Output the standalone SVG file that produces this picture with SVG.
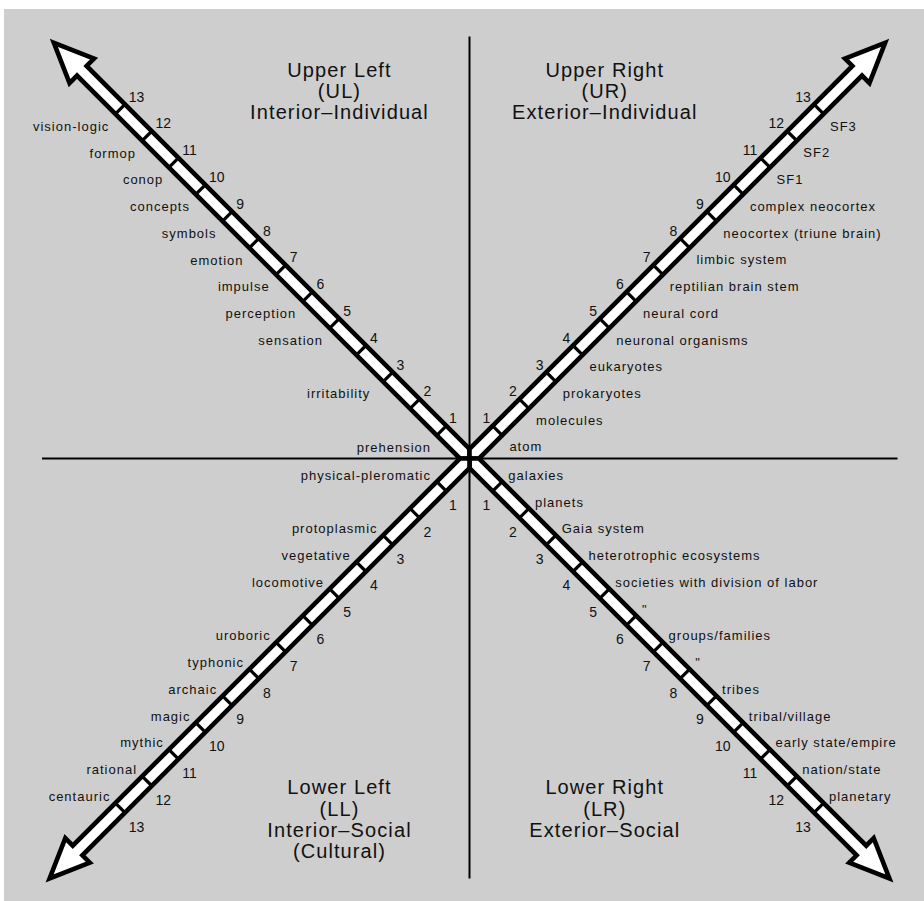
<svg xmlns="http://www.w3.org/2000/svg" width="924" height="901" viewBox="0 0 924 901">
<style>
.bg{fill:#cecece}
.axis{stroke:#000;stroke-width:2;fill:none}
.shaft{fill:#fff;stroke:#000;stroke-width:4.6;stroke-linejoin:miter;stroke-miterlimit:10}
.ticks{stroke:#000;stroke-width:3.2;fill:none}
text{font-family:"Liberation Sans",Arial,Helvetica,sans-serif;fill:#111}
.lab{font-size:13px;letter-spacing:1px}
.num{font-size:14px}
.ttl{font-size:20px;letter-spacing:1.1px;text-anchor:middle}
.e{text-anchor:end}
</style>
<rect class="bg" x="4" y="9" width="920" height="892"/>
<g id="connectors">
<line class="axis" x1="42" y1="458.5" x2="897.5" y2="458.5"/>
<line class="axis" x1="469.5" y1="36.5" x2="469.5" y2="878.5"/>
</g>
<g id="arrow-UL" transform="translate(469.5,458.5) rotate(-135)">
<path class="shaft" d="M0,0 L6.8,-6.8 L548.3,-6.8 L548.3,-17.3 L587.8,0 L548.3,17.3 L548.3,6.8 L6.8,6.8 Z"/>
<path class="ticks" d="M39.5,-6 v12 M77.4,-6 v12 M115.3,-6 v12 M153.1,-6 v12 M191,-6 v12 M228.9,-6 v12 M266.8,-6 v12 M304.6,-6 v12 M342.5,-6 v12 M380.4,-6 v12 M418.3,-6 v12 M456.1,-6 v12 M494,-6 v12"/>
</g>
<g id="arrow-UR" transform="translate(469.5,458.5) rotate(-45)">
<path class="shaft" d="M0,0 L6.8,-6.8 L548.3,-6.8 L548.3,-17.3 L587.8,0 L548.3,17.3 L548.3,6.8 L6.8,6.8 Z"/>
<path class="ticks" d="M39.5,-6 v12 M77.4,-6 v12 M115.3,-6 v12 M153.1,-6 v12 M191,-6 v12 M228.9,-6 v12 M266.8,-6 v12 M304.6,-6 v12 M342.5,-6 v12 M380.4,-6 v12 M418.3,-6 v12 M456.1,-6 v12 M494,-6 v12"/>
</g>
<g id="arrow-LR" transform="translate(469.5,458.5) rotate(45)">
<path class="shaft" d="M0,0 L6.8,-6.8 L554.3,-6.8 L554.3,-17.3 L593.8,0 L554.3,17.3 L554.3,6.8 L6.8,6.8 Z"/>
<path class="ticks" d="M39.5,-6 v12 M77.4,-6 v12 M115.3,-6 v12 M153.1,-6 v12 M191,-6 v12 M228.9,-6 v12 M266.8,-6 v12 M304.6,-6 v12 M342.5,-6 v12 M380.4,-6 v12 M418.3,-6 v12 M456.1,-6 v12 M494,-6 v12"/>
</g>
<g id="arrow-LL" transform="translate(469.5,458.5) rotate(135)">
<path class="shaft" d="M0,0 L6.8,-6.8 L554.3,-6.8 L554.3,-17.3 L593.8,0 L554.3,17.3 L554.3,6.8 L6.8,6.8 Z"/>
<path class="ticks" d="M39.5,-6 v12 M77.4,-6 v12 M115.3,-6 v12 M153.1,-6 v12 M191,-6 v12 M228.9,-6 v12 M266.8,-6 v12 M304.6,-6 v12 M342.5,-6 v12 M380.4,-6 v12 M418.3,-6 v12 M456.1,-6 v12 M494,-6 v12"/>
</g>
<g id="title-UL">
<text class="ttl" x="339.5" y="76.7">Upper Left</text>
<text class="ttl" x="339.5" y="98">(UL)</text>
<text class="ttl" x="339.5" y="119.3">Interior–Individual</text>
</g>
<g id="title-UR">
<text class="ttl" x="604.8" y="76.7">Upper Right</text>
<text class="ttl" x="604.8" y="98">(UR)</text>
<text class="ttl" x="604.8" y="119.3">Exterior–Individual</text>
</g>
<g id="title-LL">
<text class="ttl" x="339.5" y="794.3">Lower Left</text>
<text class="ttl" x="339.5" y="815.6">(LL)</text>
<text class="ttl" x="339.5" y="836.9">Interior–Social</text>
<text class="ttl" x="339.5" y="858.2">(Cultural)</text>
</g>
<g id="title-LR">
<text class="ttl" x="604.8" y="794.3">Lower Right</text>
<text class="ttl" x="604.8" y="815.6">(LR)</text>
<text class="ttl" x="604.8" y="836.9">Exterior–Social</text>
</g>
<g id="labels-UL" class="lab e">
<text x="109.3" y="131">vision-logic</text>
<text x="136" y="157.7">formop</text>
<text x="163.3" y="184.4">conop</text>
<text x="190" y="211.1">concepts</text>
<text x="216.5" y="237.8">symbols</text>
<text x="243.5" y="264.5">emotion</text>
<text x="269.7" y="291.2">impulse</text>
<text x="296.3" y="317.9">perception</text>
<text x="323" y="344.6">sensation</text>
<text x="370.3" y="398.1">irritability</text>
<text x="431" y="451.6">prehension</text>
</g>
<g id="numbers-UL" class="num">
<text x="128.8" y="101.5">13</text>
<text x="155.5" y="128.3">12</text>
<text x="182.2" y="155.1">11</text>
<text x="208.9" y="181.9">10</text>
<text x="236.3" y="208.7">9</text>
<text x="263" y="235.5">8</text>
<text x="289.7" y="262.3">7</text>
<text x="316.5" y="289.1">6</text>
<text x="343.2" y="315.9">5</text>
<text x="369.9" y="342.7">4</text>
<text x="396.6" y="369.5">3</text>
<text x="423.4" y="396.3">2</text>
<text x="449" y="423.1">1</text>
</g>
<g id="labels-UR" class="lab">
<text x="830" y="130.7">SF3</text>
<text x="803.3" y="157.4">SF2</text>
<text x="776.6" y="184.1">SF1</text>
<text x="749.9" y="210.9">complex neocortex</text>
<text x="723.2" y="237.6">neocortex (triune brain)</text>
<text x="696.4" y="264.3">limbic system</text>
<text x="669.7" y="291">reptilian brain stem</text>
<text x="643" y="317.7">neural cord</text>
<text x="616.3" y="344.5">neuronal organisms</text>
<text x="589.5" y="371.2">eukaryotes</text>
<text x="562.8" y="397.9">prokaryotes</text>
<text x="536.1" y="424.6">molecules</text>
<text x="509.4" y="451.3">atom</text>
</g>
<g id="numbers-UR" class="num e">
<text x="810.8" y="101.5">13</text>
<text x="784.1" y="128.3">12</text>
<text x="757.4" y="155.1">11</text>
<text x="730.6" y="181.9">10</text>
<text x="703.9" y="208.7">9</text>
<text x="677.2" y="235.5">8</text>
<text x="650.5" y="262.3">7</text>
<text x="623.8" y="289.1">6</text>
<text x="597" y="315.9">5</text>
<text x="570.3" y="342.7">4</text>
<text x="543.6" y="369.5">3</text>
<text x="516.9" y="396.3">2</text>
<text x="490.2" y="423.1">1</text>
</g>
<g id="labels-LL" class="lab e">
<text x="431" y="480">physical-pleromatic</text>
<text x="377.6" y="533.4">protoplasmic</text>
<text x="350.8" y="560.2">vegetative</text>
<text x="324.1" y="586.9">locomotive</text>
<text x="270.7" y="640.3">uroboric</text>
<text x="244" y="667">typhonic</text>
<text x="217.2" y="693.8">archaic</text>
<text x="190.5" y="720.5">magic</text>
<text x="163.8" y="747.2">mythic</text>
<text x="137.1" y="773.9">rational</text>
<text x="110.4" y="800.6">centauric</text>
</g>
<g id="numbers-LL" class="num">
<text x="449" y="510">1</text>
<text x="423.4" y="536.8">2</text>
<text x="396.6" y="563.6">3</text>
<text x="369.9" y="590.4">4</text>
<text x="343.2" y="617.2">5</text>
<text x="316.5" y="644">6</text>
<text x="289.7" y="670.8">7</text>
<text x="263" y="697.6">8</text>
<text x="236.3" y="724.4">9</text>
<text x="208.9" y="751.2">10</text>
<text x="182.2" y="778">11</text>
<text x="155.5" y="804.8">12</text>
<text x="128.8" y="831.6">13</text>
</g>
<g id="labels-LR" class="lab">
<text x="508.3" y="480">galaxies</text>
<text x="535" y="506.7">planets</text>
<text x="561.7" y="533.4">Gaia system</text>
<text x="588.5" y="560.2">heterotrophic ecosystems</text>
<text x="615.2" y="586.9">societies with division of labor</text>
<text x="641.9" y="613.6">"</text>
<text x="668.6" y="640.3">groups/families</text>
<text x="695.3" y="667">"</text>
<text x="722.1" y="693.8">tribes</text>
<text x="748.8" y="720.5">tribal/village</text>
<text x="775.5" y="747.2">early state/empire</text>
<text x="802.2" y="773.9">nation/state</text>
<text x="829" y="800.6">planetary</text>
</g>
<g id="numbers-LR" class="num e">
<text x="490.2" y="510">1</text>
<text x="516.9" y="536.8">2</text>
<text x="543.6" y="563.6">3</text>
<text x="570.3" y="590.4">4</text>
<text x="597" y="617.2">5</text>
<text x="623.8" y="644">6</text>
<text x="650.5" y="670.8">7</text>
<text x="677.2" y="697.6">8</text>
<text x="703.9" y="724.4">9</text>
<text x="730.6" y="751.2">10</text>
<text x="757.4" y="778">11</text>
<text x="784.1" y="804.8">12</text>
<text x="810.8" y="831.6">13</text>
</g>
</svg>
